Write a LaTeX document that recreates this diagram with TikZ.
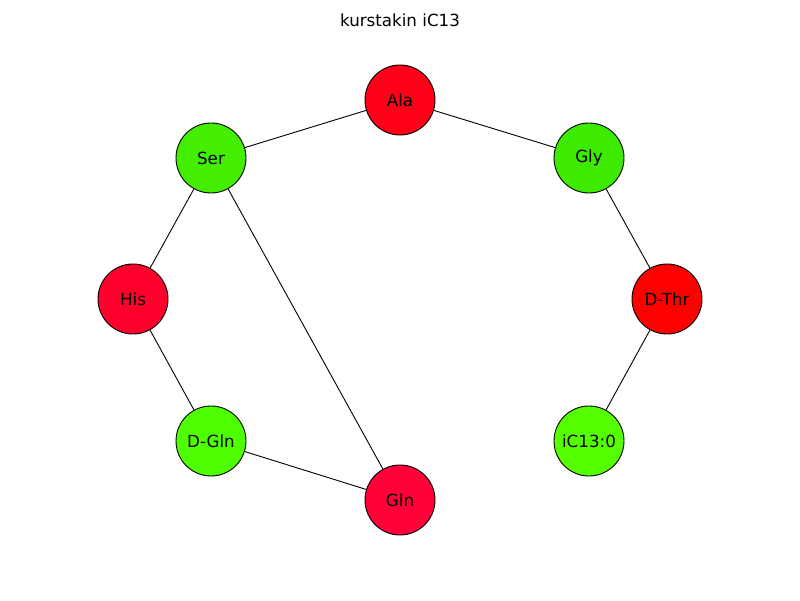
\documentclass[tikz,border=0pt]{standalone}
\usepackage{fontspec}
\setmainfont{DejaVu Sans}
\definecolor{cAla}{RGB}{255,0,24}
\definecolor{cSer}{RGB}{68,238,0}
\definecolor{cGly}{RGB}{61,235,0}
\definecolor{cHis}{RGB}{255,0,44}
\definecolor{cThr}{RGB}{255,0,0}
\definecolor{cDGln}{RGB}{77,255,0}
\definecolor{cIC}{RGB}{85,255,0}
\definecolor{cGln}{RGB}{255,0,56}
\begin{document}
\begin{tikzpicture}[x=1pt,y=1pt,
  aa/.style={circle,draw=black,line width=0.9pt,minimum size=70pt,inner sep=0pt,font=\fontsize{16.7}{19}\selectfont},
  edge/.style={draw=black,line width=0.9pt}]
\useasboundingbox (0,0) rectangle (800,600);
\node[font=\fontsize{16.7}{19}\selectfont] (title) at (400,580) {kurstakin iC13};
\node[aa,fill=cAla] (ala) at (400,500) {Ala};
\node[aa,fill=cSer] (ser) at (211,442) {Ser};
\node[aa,fill=cGly] (gly) at (589,442) {Gly};
\node[aa,fill=cHis] (his) at (133,301) {His};
\node[aa,fill=cThr] (thr) at (667,301) {D-Thr};
\node[aa,fill=cDGln] (dgln) at (211,159) {D-Gln};
\node[aa,fill=cIC] (ic) at (589,159) {iC13:0};
\node[aa,fill=cGln] (gln) at (400,100) {Gln};
\draw[edge] (ala) -- (ser);
\draw[edge] (ala) -- (gly);
\draw[edge] (ser) -- (his);
\draw[edge] (ser) -- (gln);
\draw[edge] (gly) -- (thr);
\draw[edge] (his) -- (dgln);
\draw[edge] (thr) -- (ic);
\draw[edge] (dgln) -- (gln);
\end{tikzpicture}
\end{document}
